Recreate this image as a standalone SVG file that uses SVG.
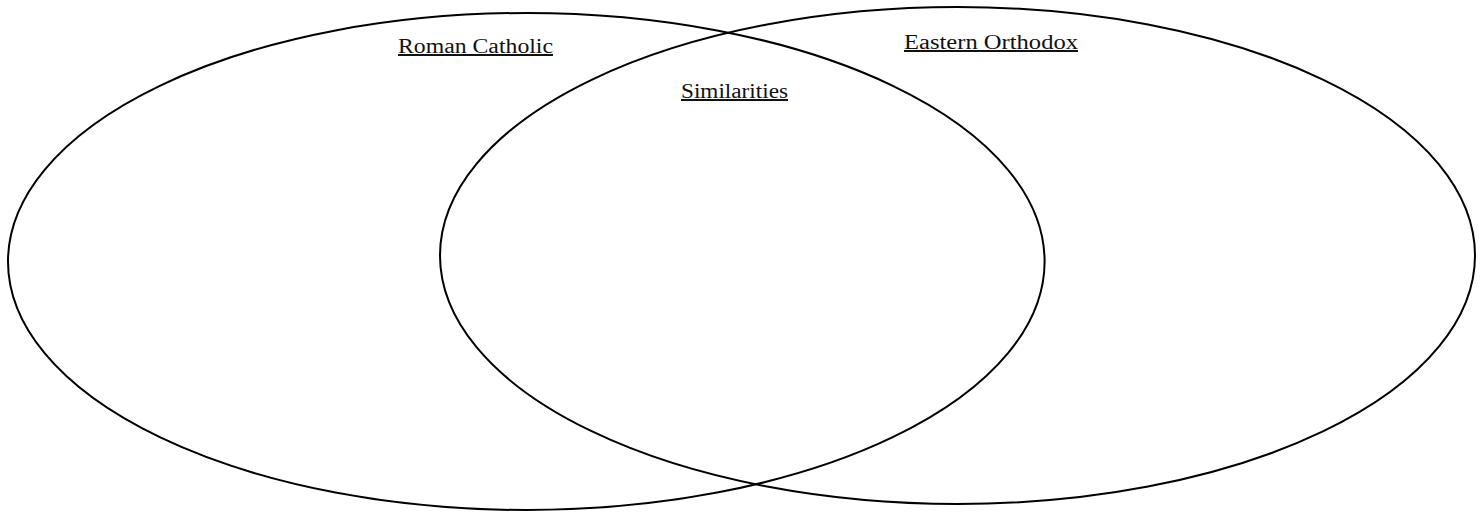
<svg xmlns="http://www.w3.org/2000/svg" width="1484" height="512" viewBox="0 0 1484 512">
<style>
.c{fill:none;stroke:#000;stroke-width:2}
.t{font-family:"Liberation Serif","DejaVu Serif",serif;font-size:20px;fill:#111;text-decoration:underline}
</style>
<rect width="1484" height="512" fill="#fff"/>
<g id="roman-catholic">
<ellipse class="c" cx="526.3" cy="261.5" rx="518.3" ry="248.5"/>
<text class="t" x="398" y="53" textLength="155" lengthAdjust="spacingAndGlyphs">Roman Catholic</text>
</g>
<g id="eastern-orthodox">
<ellipse class="c" cx="957.5" cy="255.5" rx="517.5" ry="248.5"/>
<text class="t" x="904" y="49" textLength="174" lengthAdjust="spacingAndGlyphs">Eastern Orthodox</text>
</g>
<g id="similarities">
<text class="t" x="681" y="98" textLength="107" lengthAdjust="spacingAndGlyphs">Similarities</text>
</g>
<g id="connectors"></g>
</svg>
